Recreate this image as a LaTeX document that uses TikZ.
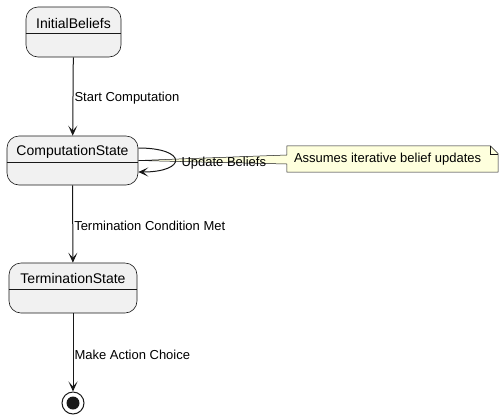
\documentclass[tikz,border=0pt]{standalone}
\usepackage{fontspec}
\setmainfont{Liberation Sans}
\usetikzlibrary{arrows.meta}
\definecolor{linec}{HTML}{181818}
\definecolor{statefill}{HTML}{F1F1F1}
\definecolor{notefill}{HTML}{FEFFDD}
\begin{document}
\begin{tikzpicture}[x=1pt,y=-1pt,
  state/.style={draw=linec,fill=statefill,line width=0.6pt,rounded corners=12pt,inner sep=0pt},
  title/.style={anchor=base,inner sep=0pt,font=\fontsize{14}{16}\selectfont},
  lbl/.style={right,inner sep=1pt,yshift=-2pt,font=\fontsize{13}{15}\selectfont},
  arr/.style={draw=linec,line width=1pt,-{Stealth[length=10pt,width=9pt,inset=5pt]}}]
  \useasboundingbox (0,0) rectangle (502,418);

  % States
  \node[state,minimum width=95pt,minimum height=50pt] (init) at (73.5,32) {};
  \node[state,minimum width=131pt,minimum height=49pt] (comp) at (72.5,160.5) {};
  \node[state,minimum width=128pt,minimum height=50pt] (term) at (73,288) {};

  % Dividers
  \draw[linec,line width=0.6pt] ([yshift=-27pt]init.north west) -- ([yshift=-27pt]init.north east);
  \draw[linec,line width=0.6pt] ([yshift=-27pt]comp.north west) -- ([yshift=-27pt]comp.north east);
  \draw[linec,line width=0.6pt] ([yshift=-27pt]term.north west) -- ([yshift=-27pt]term.north east);

  % State names
  \node[title] (initT) at (73.5,28) {InitialBeliefs};
  \node[title] (compT) at (72.5,155.5) {ComputationState};
  \node[title] (termT) at (73,283) {TerminationState};

  % Final state
  \node[circle,draw=linec,line width=1pt,fill=white,minimum size=22pt,inner sep=0pt] (endc) at (73,403) {};
  \node[circle,fill=linec,minimum size=13pt,inner sep=0pt] (endd) at (endc.center) {};

  % Note
  \node[inner sep=0pt,minimum width=211pt,minimum height=26pt,font=\fontsize{13}{15}\selectfont] (note) at (392.5,159) {};
  \filldraw[draw=linec,fill=notefill,line width=0.5pt]
    (note.north west) -- ([xshift=-8pt]note.north east) -- ([yshift=-8pt]note.north east)
    -- (note.south east) -- (note.south west) -- ([yshift=-5pt]note.west)
    -- (comp.east) -- ([yshift=4pt]note.west) -- cycle;
  \draw[linec,line width=0.5pt] ([xshift=-8pt]note.north east) -- ([xshift=-8pt,yshift=-8pt]note.north east)
    -- ([yshift=-8pt]note.north east);
  \node[anchor=west,inner sep=0pt,font=\fontsize{13}{15}\selectfont] (noteT) at ([xshift=7pt]note.west) {Assumes iterative belief updates};

  % Transitions
  \draw[arr] (init) -- node[lbl] {Start Computation} (comp);
  \draw[arr] ([yshift=12.5pt]comp.east) .. controls +(49pt,0) and +(49pt,0) .. ([yshift=-11.5pt]comp.east)
    node[pos=0.5,right,inner sep=0pt,xshift=6pt,yshift=-3pt,font=\fontsize{13}{15}\selectfont] (loopL) {Update Beliefs};
  \draw[arr] (comp) -- node[lbl] {Termination Condition Met} (term);
  \draw[arr] (term) -- node[lbl] {Make Action Choice} (endc);
\end{tikzpicture}
\end{document}
